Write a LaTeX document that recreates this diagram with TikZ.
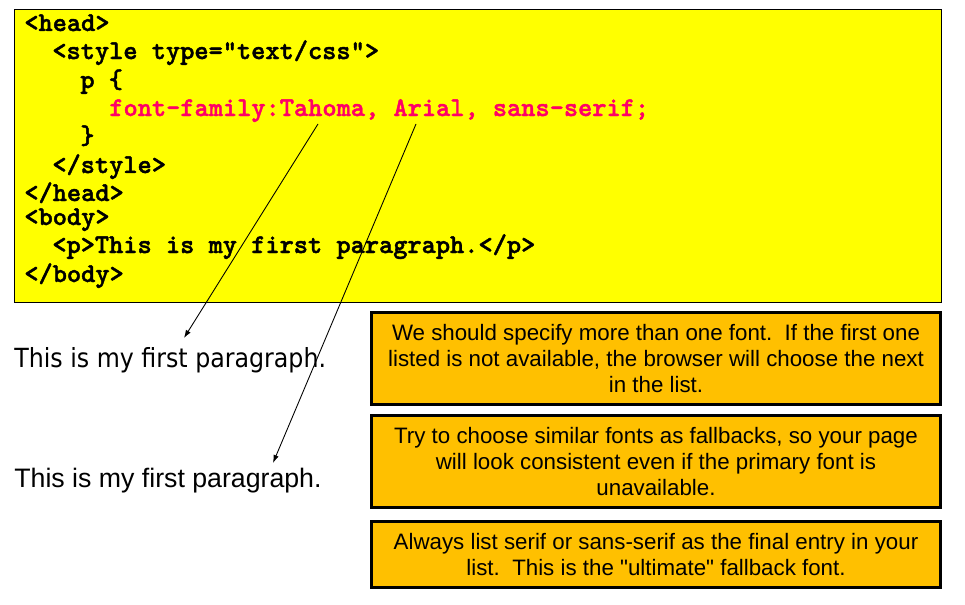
\documentclass[tikz,border=0pt]{standalone}
\usepackage{fontspec}
\setmainfont{Liberation Sans}
\newfontfamily\arialfont{Liberation Sans}
\newfontfamily\tahomafont{DejaVu Sans Condensed}
\newfontfamily\codefont{lmmonolt10-bold.otf}[FakeBold=1.6]
\usetikzlibrary{arrows.meta}

\definecolor{codeyellow}{RGB}{255,255,0}
\definecolor{codered}{RGB}{255,0,102}
\definecolor{noteorange}{RGB}{255,192,0}

\tikzset{
  codeline/.style={anchor=base west, inner sep=0pt, font=\codefont\fontsize{15.4}{18}\selectfont},
  paraline/.style={anchor=base west, inner sep=0pt},
  notebox/.style={draw=black, line width=1.7pt, fill=noteorange, minimum width=11.38cm,
    align=center, inner sep=0pt, font=\arialfont\fontsize{12.7}{14.8}\selectfont},
  pointer/.style={line width=0.5pt, -{Latex[length=1.6mm,width=1.1mm]}}
}

\begin{document}
\begin{tikzpicture}[x=0.02cm, y=-0.02cm]
    \useasboundingbox (0,0) rectangle (965,605);

    % code box
    \node [draw=black, line width=0.6pt, fill=codeyellow, minimum width=18.54cm, minimum height=5.86cm, inner sep=0pt] (code) at (478,156) {};

    \node [codeline] (head) at (24,31) {<head>};
    \node [codeline] (style) at (52,59) {<style type=\char34 text/css\char34>};
    \node [codeline] (psel) at (80,88) {p \{};
    \node [codeline, text=codered] (family) at (109,116) {font-family:Tahoma, Arial, sans-serif;};
    \node [codeline] (pclose) at (80,144) {\}};
    \node [codeline] (styleend) at (52,173) {</style>};
    \node [codeline] (headend) at (24,201) {</head>};
    \node [codeline] (body) at (24,225) {<body>};
    \node [codeline] (ptag) at (52,253) {<p>This is my first paragraph.</p>};
    \node [codeline] (bodyend) at (24,282) {</body>};

    % rendered paragraphs
    \node [paraline, font=\tahomafont\fontsize{15}{18}\selectfont] (tahoma) at (14,367) {This is my first paragraph.};
    \node [paraline, font=\arialfont\fontsize{15.2}{18}\selectfont] (arial) at (14,487) {This is my first paragraph.};

    % pointers from the font names
    \coordinate (fromtahoma) at (318,124);
    \coordinate (fromarial) at (416,124);
    \coordinate (totahoma) at (184,338);
    \coordinate (toarial) at (273,463);
    \draw [pointer] (fromtahoma) -- (totahoma);
    \draw [pointer] (fromarial) -- (toarial);

    % notes
    \node [notebox, minimum height=1.84cm] (note1) at (656,358.5)
      {We should specify more than one font.\ \ If the first one\\listed is not available, the browser will choose the next\\in the list.};
    \node [notebox, minimum height=1.84cm] (note2) at (656,461.5)
      {Try to choose similar fonts as fallbacks, so your page\\will look consistent even if the primary font is\\unavailable.};
    \node [notebox, minimum height=1.32cm] (note3) at (656,554.5)
      {Always list serif or sans-serif as the final entry in your\\list.\ \ This is the "ultimate" fallback font.};
\end{tikzpicture}
\end{document}
